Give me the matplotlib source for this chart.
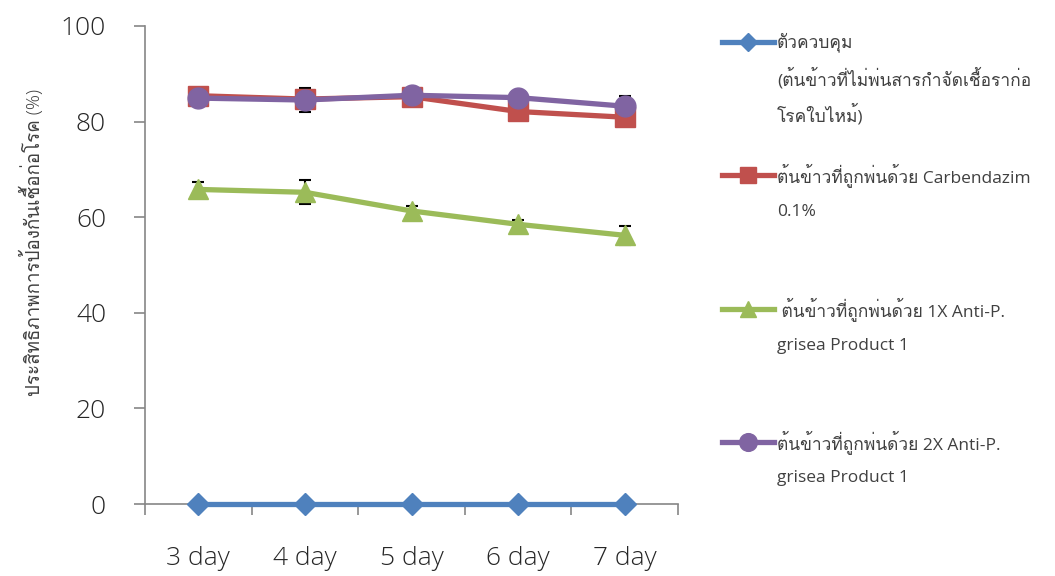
import matplotlib
matplotlib.use("Agg")
import matplotlib.pyplot as plt
import numpy as np
from matplotlib import font_manager as fm
from matplotlib.ft2font import FT2Font
from matplotlib.lines import Line2D

# find a regular-weight font that has Thai glyphs
thai_font = None
candidates = []
for f in sorted(fm.findSystemFonts()):
    try:
        ft = FT2Font(f)
        if 0x0E15 in ft.get_charmap():
            candidates.append((ft.style_name != "Regular", f, ft.family_name))
    except Exception:
        pass
if candidates:
    candidates.sort()
    thai_font = candidates[0][2]
families = ["Open Sans"] + ([thai_font] if thai_font else []) + ["DejaVu Sans"]
plt.rcParams["font.family"] = families

days = ["3 day", "4 day", "5 day", "6 day", "7 day"]
control = [0, 0, 0, 0, 0]
carbendazim = [85.4, 84.7, 85.2, 82.1, 80.9]
anti_1x = [65.8, 65.2, 61.3, 58.5, 56.2]
anti_2x = [84.9, 84.5, 85.5, 85.0, 83.2]
err_2x = [0, 2.6, 0, 0, 2.2]
err_1x = [1.5, 2.5, 1.1, 0.8, 2.0]

labels = [["ตัวควบคุม", "(ต้นข้าวที่ไม่พ่นสารกำจัดเชื้อราก่อ", "โรคใบไหม้)"],
          ["ต้นข้าวที่ถูกพ่นด้วย Carbendazim", "0.1%"],
          [" ต้นข้าวที่ถูกพ่นด้วย 1X Anti-P.", "grisea Product 1"],
          ["ต้นข้าวที่ถูกพ่นด้วย 2X Anti-P.", "grisea Product 1"]]
ylabel = "ประสิทธิภาพการป้องกันเชื้อก่อโรค (%)"

colors = ["#4F81BD", "#C0504D", "#9BBB59", "#8064A2"]
markers = ["D", "s", "^", "o"]
msizes = [11, 14, 14, 15]
series = [control, carbendazim, anti_1x, anti_2x]

dpi = 100
fig = plt.figure(figsize=(1055 / dpi, 576 / dpi), dpi=dpi)
ax = fig.add_axes([0.1374, 0.125, 0.5053, 0.830])
x = np.arange(len(days))

ax.errorbar(x, anti_1x, yerr=err_1x, fmt="none", ecolor="black", elinewidth=1.5,
            capsize=4, capthick=1.5, zorder=2)
ax.errorbar(x, anti_2x, yerr=err_2x, fmt="none", ecolor="black", elinewidth=1.5,
            capsize=4, capthick=1.5, zorder=2)
for vals, c, m, ms in zip(series, colors, markers, msizes):
    ax.plot(x, vals, color=c, marker=m, markersize=ms, linewidth=3.8, zorder=3,
            clip_on=False)

ax.set_xlim(-0.5, 4.5)
ax.set_ylim(0, 100)
ax.set_yticks([0, 20, 40, 60, 80, 100])
ax.set_xticks(x)
ax.set_xticklabels(days)
ax.set_xticks(np.arange(-0.5, 5, 1), minor=True)
ax.tick_params(axis="x", which="major", length=0, pad=30, labelsize=19, labelcolor="#262626")
ax.tick_params(axis="x", which="minor", length=8, width=1.2, color="#868686", direction="out")
ax.tick_params(axis="y", length=8, width=1.2, color="#868686", pad=20, labelsize=19,
               labelcolor="#262626")
for lab in ax.get_xticklabels() + ax.get_yticklabels():
    lab.set_fontweight("light")
for s in ["top", "right"]:
    ax.spines[s].set_visible(False)
for s in ["left", "bottom"]:
    ax.spines[s].set_color("#868686")
    ax.spines[s].set_linewidth(1.2)
ax.set_ylabel(ylabel, fontsize=13.5, color="#404040", fontweight="light")
ax.yaxis.set_label_coords(-0.19, 0.548)

# legend drawn at the right
rows = [42, 175, 309, 442]
for lines, c, m, ms, r in zip(labels, colors, markers, msizes, rows):
    yf = 1 - r / 576
    fig.add_artist(Line2D([722 / 1055, 748 / 1055, 774 / 1055], [yf, yf, yf], color=c,
                          linewidth=3.8, marker=m, markersize=ms * 0.85, markevery=[1],
                          transform=fig.transFigure))
    for i, t in enumerate(lines):
        fig.text(777 / 1055, 1 - (r + i * 36.5) / 576, t, fontsize=12.5, color="#404040",
                 va="center", ha="left")

fig.savefig("out.png", dpi=dpi)
